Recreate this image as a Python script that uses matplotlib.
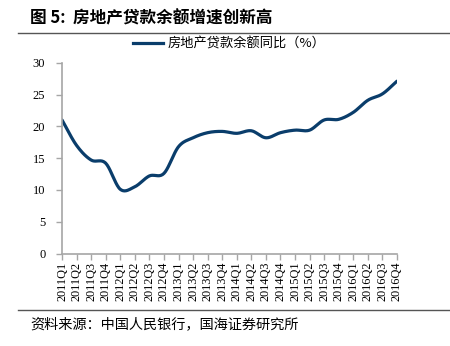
import numpy as np
import matplotlib
matplotlib.use("Agg")
import matplotlib.pyplot as plt
from matplotlib.lines import Line2D

plt.rcParams['font.family'] = ['Noto Sans CJK SC', 'DejaVu Sans']

quarters = ["2011Q1", "2011Q2", "2011Q3", "2011Q4",
            "2012Q1", "2012Q2", "2012Q3", "2012Q4",
            "2013Q1", "2013Q2", "2013Q3", "2013Q4",
            "2014Q1", "2014Q2", "2014Q3", "2014Q4",
            "2015Q1", "2015Q2", "2015Q3", "2015Q4",
            "2016Q1", "2016Q2", "2016Q3", "2016Q4"]
growth = [21.0, 17.0, 14.7, 14.2,
          10.1, 10.5, 12.2, 12.6,
          16.8, 18.2, 19.0, 19.2,
          18.9, 19.3, 18.2, 19.0,
          19.4, 19.4, 21.0, 21.1,
          22.2, 24.1, 25.1, 27.1]
yticks = [0, 5, 10, 15, 20, 25, 30]

title = "图 5:  房地产贷款余额增速创新高"
legend_label = "房地产贷款余额同比（%）"
source = "资料来源：中国人民银行，国海证券研究所"

LINE_COLOR = "#0a3d6b"
AXIS_COLOR = "#a6a6a6"


def smooth(x, y, steps=20):
    """Catmull-Rom curve through every point."""
    x = np.asarray(x, float)
    y = np.asarray(y, float)
    px = np.concatenate([[2 * x[0] - x[1]], x, [2 * x[-1] - x[-2]]])
    py = np.concatenate([[2 * y[0] - y[1]], y, [2 * y[-1] - y[-2]]])
    t = np.linspace(0, 1, steps, endpoint=False)
    xs, ys = [], []
    for i in range(1, len(px) - 2):
        for arr, out in ((px, xs), (py, ys)):
            p0, p1, p2, p3 = arr[i - 1], arr[i], arr[i + 1], arr[i + 2]
            out.extend(0.5 * ((2 * p1) + (-p0 + p2) * t
                              + (2 * p0 - 5 * p1 + 4 * p2 - p3) * t ** 2
                              + (-p0 + 3 * p1 - 3 * p2 + p3) * t ** 3))
    xs.append(x[-1])
    ys.append(y[-1])
    return np.array(xs), np.array(ys)


fig = plt.figure(figsize=(4.5, 3.46), dpi=100)
ax = fig.add_axes([0.1378, 0.2673, 0.7444, 0.5514])

xi = np.arange(len(quarters))
sx, sy = smooth(xi, growth)
ax.plot(sx, sy, color=LINE_COLOR, lw=2.3, solid_capstyle='round')

ax.set_xlim(0, len(quarters) - 1)
ax.set_ylim(0, 30)
ax.set_yticks(yticks)
ax.set_yticklabels([str(v) for v in yticks],
                   family='Liberation Serif', fontsize=9)
ax.set_xticks(xi)
ax.set_xticklabels(quarters, rotation=90, family='Liberation Serif',
                   fontsize=8.8)

for s in ("top", "right"):
    ax.spines[s].set_visible(False)
for s in ("left", "bottom"):
    ax.spines[s].set_color(AXIS_COLOR)
    ax.spines[s].set_linewidth(1.2)
ax.tick_params(axis='both', colors=AXIS_COLOR, labelcolor='black',
               length=4, width=1, direction='out', pad=2)
ax.tick_params(axis='y', pad=8)

# legend drawn at the top centre
handle = Line2D([], [], color=LINE_COLOR, lw=2.3)
ax.legend([handle], [legend_label], loc='center', frameon=False,
          bbox_to_anchor=(0.5, 1.0 + 0.1), bbox_transform=ax.transAxes,
          prop={'family': ['Noto Sans CJK SC'], 'size': 9.5},
          handlelength=2.3, handletextpad=0.35)

# header and footer
fig.text(30 / 450, 1 - 18 / 346, title, fontsize=12, fontweight='bold',
         va='center', ha='left')
fig.add_artist(Line2D([18 / 450, 1.0], [1 - 33 / 346, 1 - 33 / 346],
                      color='#555555', lw=1.0))
fig.add_artist(Line2D([18 / 450, 1.0], [1 - 310 / 346, 1 - 310 / 346],
                      color='#555555', lw=1.0))
fig.text(30 / 450, 1 - 324 / 346, source, fontsize=10.2,
         va='center', ha='left')

fig.savefig("out.png", dpi=100)
